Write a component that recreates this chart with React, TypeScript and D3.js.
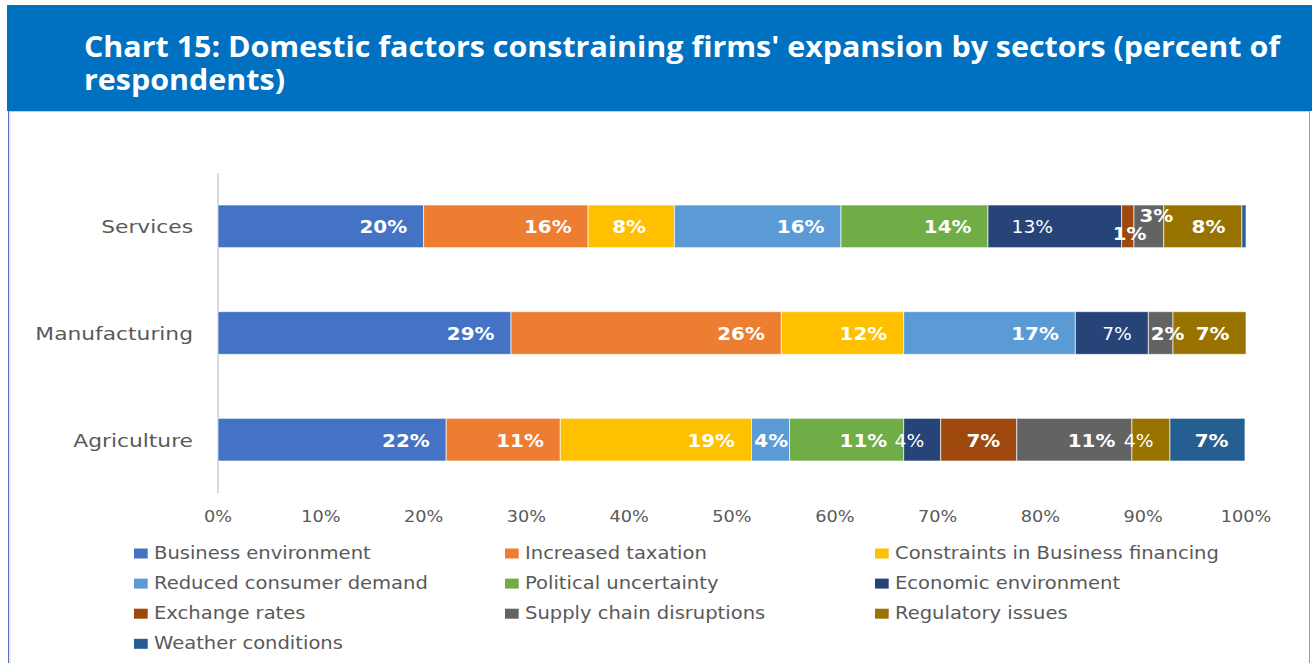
import React from 'react';
import * as d3 from 'd3';

const categories = ['Services', 'Manufacturing', 'Agriculture'];
const seriesNames = [
  'Business environment',
  'Increased taxation',
  'Constraints in Business financing',
  'Reduced consumer demand',
  'Political uncertainty',
  'Economic environment',
  'Exchange rates',
  'Supply chain disruptions',
  'Regulatory issues',
  'Weather conditions',
];
// values per category: Services, Manufacturing, Agriculture
const businessEnvironment = [20.0, 28.5, 22.2];
const increasedTaxation = [16.0, 26.3, 11.1];
const constraintsFinancing = [8.4, 11.9, 18.6];
const reducedDemand = [16.2, 16.7, 3.7];
const politicalUncertainty = [14.3, 0, 11.1];
const economicEnvironment = [13.0, 7.1, 3.6];
const exchangeRates = [1.2, 0, 7.4];
const supplyChain = [2.9, 2.4, 11.2];
const regulatoryIssues = [7.6, 7.1, 3.7];
const weatherConditions = [0.4, 0, 7.3];
const tickValues = [0, 10, 20, 30, 40, 50, 60, 70, 80, 90, 100];

const seriesValues = [
  businessEnvironment,
  increasedTaxation,
  constraintsFinancing,
  reducedDemand,
  politicalUncertainty,
  economicEnvironment,
  exchangeRates,
  supplyChain,
  regulatoryIssues,
  weatherConditions,
];

const COLORS = [
  '#4472C4', '#ED7D31', '#FFC000', '#5B9BD5', '#70AD47',
  '#264478', '#9E480E', '#636363', '#997300', '#255E91',
];

// label tweaks (screen px) keyed by "seriesIndex|category"
const labelOffsets: Record<string, [number, number]> = {
  '2|Services': [-12, 0],
  '5|Services': [-52, 0],
  '6|Services': [29, 7],
  '7|Services': [26, -11],
  '7|Manufacturing': [28, 0],
  '3|Agriculture': [15, 0],
};
const normalWeight = new Set(['5|Services', '5|Manufacturing', '5|Agriculture', '8|Agriculture']);

const W = 1312;
const H = 663;
const FONT = 'DejaVu Sans, Verdana, sans-serif';
const GREY = '#595959';

function SText(props: any) {
  const { x, y, sx = 1, anchor = 'start', children, ...rest } = props;
  return (
    <text transform={`translate(${x},${y}) scale(${sx},1)`} textAnchor={anchor} {...rest}>
      {children}
    </text>
  );
}

export default function App() {
  const table = categories.map((c, i) => {
    const row: any = { category: c };
    seriesNames.forEach((s, j) => (row[s] = seriesValues[j][i]));
    return row;
  });
  const stacked = d3.stack().keys(seriesNames)(table);

  const x = d3.scaleLinear().domain([0, 100]).range([218, 1246]);
  const y = d3.scaleBand().domain(categories).range([173, 493]).paddingInner(0.6).paddingOuter(0.3);
  const bw = y.bandwidth();

  const legendCols = [134, 505, 875];
  const legendRow0 = 558.5;
  const legendStep = 30.1;

  return (
    <div style={{ position: 'fixed', left: 0, top: 0 }}>
      <svg width={W} height={H} style={{ display: 'block', background: '#fff' }}>
        {/* header */}
        <rect x={7} y={5} width={W - 7} height={106} fill="#0070C0" />
        <text x={84} y={57} fill="#fff" fontFamily="Open Sans, sans-serif" fontWeight={700} fontSize={29}
          textLength={1196} lengthAdjust="spacingAndGlyphs">
          Chart 15: Domestic factors constraining firms' expansion by sectors (percent of
        </text>
        <text x={84} y={90} fill="#fff" fontFamily="Open Sans, sans-serif" fontWeight={700} fontSize={29}
          textLength={201} lengthAdjust="spacingAndGlyphs">
          respondents)
        </text>
        {/* panel borders */}
        <line x1={8.5} x2={8.5} y1={111} y2={H} stroke="#5b6dbd" strokeWidth={1} />
        <line x1={10} x2={10} y1={112} y2={H} stroke="#d0d4e4" strokeWidth={1} />
        <line x1={1309.5} x2={1309.5} y1={111} y2={H} stroke="#8a96c8" strokeWidth={1} />
        <line x1={9} x2={1309} y1={111.5} y2={111.5} stroke="#c9cfe3" strokeWidth={1} />

        {/* vertical axis */}
        <line x1={x(0)} x2={x(0)} y1={173} y2={493} stroke="#d9d9d9" strokeWidth={2} />

        {/* bars */}
        {stacked.map((layer, si) => (
          <g key={layer.key}>
            {layer.map((d: any) => {
              const w = x(d[1]) - x(d[0]);
              if (w <= 0) return null;
              return (
                <rect key={d.data.category} x={x(d[0])} y={y(d.data.category)} width={w} height={bw}
                  fill={COLORS[si]} stroke="#ffffff" strokeOpacity={0.65} strokeWidth={1} />
              );
            })}
          </g>
        ))}

        {/* labels */}
        {stacked.map((layer, si) => (
          <g key={'l' + layer.key}>
            {layer.map((d: any) => {
              const v = d[1] - d[0];
              const r = Math.round(v);
              if (r < 1) return null;
              const key = si + '|' + d.data.category;
              const off = labelOffsets[key] || [0, 0];
              const normal = normalWeight.has(key);
              return (
                <SText key={key} x={x(d[1]) - 16.5 + off[0]} y={(y(d.data.category) as number) + bw / 2 + 7 + off[1]}
                  sx={normal ? 1.1 : 1.17} anchor="end" fill="#fff" fontFamily={FONT}
                  fontWeight={normal ? 400 : 700} fontSize={17}>
                  {r}%
                </SText>
              );
            })}
          </g>
        ))}

        {/* category labels */}
        {categories.map((c) => (
          <SText key={c} x={193} y={(y(c) as number) + bw / 2 + 7} sx={1.21} anchor="end" fill={GREY}
            fontFamily={FONT} fontSize={18}>
            {c}
          </SText>
        ))}

        {/* x ticks */}
        {tickValues.map((t) => (
          <SText key={t} x={x(t)} y={522} sx={1.18} anchor="middle" fill={GREY} fontFamily={FONT} fontSize={15}>
            {t}%
          </SText>
        ))}

        {/* legend */}
        {seriesNames.map((s, i) => {
          const col = i % 3;
          const row = Math.floor(i / 3);
          const ly = legendRow0 + row * legendStep;
          const lx = legendCols[col];
          return (
            <g key={s}>
              <rect x={lx} y={ly - 10} width={13.7} height={10} fill={COLORS[i]} />
              <SText x={lx + 20} y={ly} sx={1.15} fill={GREY} fontFamily={FONT} fontSize={17}>
                {s}
              </SText>
            </g>
          );
        })}
      </svg>
    </div>
  );
}
